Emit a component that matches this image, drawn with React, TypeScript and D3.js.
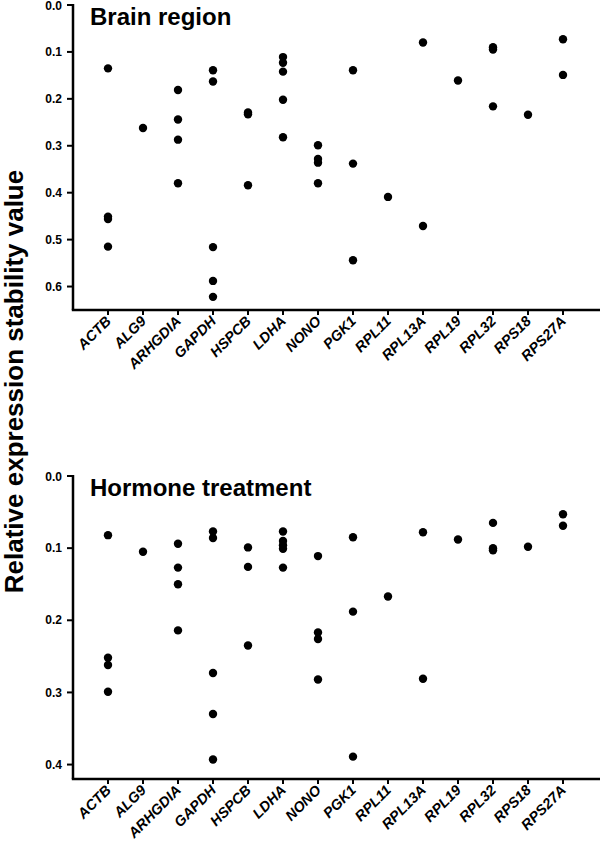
import React from "react";
import * as d3 from "d3";

const genes = ["ACTB","ALG9","ARHGDIA","GAPDH","HSPCB","LDHA","NONO","PGK1","RPL11","RPL13A","RPL19","RPL32","RPS18","RPS27A"];

const brainValues: number[][] = [
  [0.135, 0.451, 0.456, 0.515],
  [0.262],
  [0.181, 0.244, 0.287, 0.380],
  [0.139, 0.163, 0.516, 0.588, 0.622],
  [0.229, 0.233, 0.384],
  [0.111, 0.123, 0.142, 0.202, 0.282],
  [0.299, 0.328, 0.336, 0.380],
  [0.139, 0.338, 0.544],
  [0.409],
  [0.080, 0.471],
  [0.161],
  [0.090, 0.095, 0.216],
  [0.234],
  [0.073, 0.149],
];

const hormoneValues: number[][] = [
  [0.082, 0.252, 0.262, 0.299],
  [0.105],
  [0.094, 0.127, 0.150, 0.214],
  [0.077, 0.086, 0.273, 0.330, 0.393],
  [0.099, 0.126, 0.235],
  [0.077, 0.090, 0.096, 0.101, 0.127],
  [0.111, 0.217, 0.226, 0.282],
  [0.085, 0.188, 0.389],
  [0.167],
  [0.078, 0.281],
  [0.088],
  [0.065, 0.100, 0.103],
  [0.098],
  [0.053, 0.069],
];

const brainTicks = [0, 0.1, 0.2, 0.3, 0.4, 0.5, 0.6];
const hormoneTicks = [0, 0.1, 0.2, 0.3, 0.4];

const FONT = "'Liberation Sans', Arial, sans-serif";

type PanelProps = {
  title: string;
  values: number[][];
  ticks: number[];
  yMax: number;
  top: number;
  bottom: number;
};

function Panel({ title, values, ticks, yMax, top, bottom }: PanelProps) {
  const axisX = 73;
  const x = d3.scalePoint<string>().domain(genes).range([axisX, 598]).padding(1);
  const y = d3.scaleLinear().domain([0, yMax]).range([top, bottom]);
  return (
    <g>
      <line x1={axisX} x2={axisX} y1={top - 1} y2={bottom} stroke="#000" strokeWidth={2.5} />
      <line x1={axisX - 1.2} x2={600} y1={bottom} y2={bottom} stroke="#000" strokeWidth={2.5} />
      {ticks.map((t) => (
        <g key={t}>
          <line x1={axisX - 6} x2={axisX} y1={y(t)} y2={y(t)} stroke="#000" strokeWidth={2} />
          <text x={62} y={y(t)} dy={t === 0 ? "0.42em" : "0.35em"} textAnchor="end" fontFamily={FONT} fontWeight="bold" fontSize={12}>
            {t.toFixed(1)}
          </text>
        </g>
      ))}
      {genes.map((g) => (
        <g key={g}>
          <line x1={x(g)} x2={x(g)} y1={bottom} y2={bottom + 5} stroke="#000" strokeWidth={2} />
          <text
            transform={`translate(${(x(g) as number) + 4},${bottom + 12}) rotate(-45)`}
            textAnchor="end"
            fontFamily={FONT}
            fontWeight="bold"
            fontStyle="italic"
            fontSize={14.5}
          >
            {g}
          </text>
        </g>
      ))}
      {genes.map((g, i) =>
        values[i].map((v, j) => (
          <circle key={`${g}-${j}`} cx={x(g)} cy={y(v)} r={4.2} fill="#000" />
        ))
      )}
      <text x={90} y={top + 20} fontFamily={FONT} fontWeight="bold" fontSize={24}>
        {title}
      </text>
    </g>
  );
}

export default function App() {
  return (
    <svg width={600} height={843} style={{ position: "absolute", left: 0, top: 0, background: "#fff" }}>
      <rect width={600} height={843} fill="#fff" />
      <Panel title="Brain region" values={brainValues} ticks={brainTicks} yMax={0.65} top={5} bottom={310} />
      <Panel title="Hormone treatment" values={hormoneValues} ticks={hormoneTicks} yMax={0.42} top={476} bottom={779} />
      <text
        transform="translate(23,381.5) rotate(-90)"
        textAnchor="middle"
        fontFamily={FONT}
        fontWeight="bold"
        fontSize={26}
      >
        Relative expression stability value
      </text>
    </svg>
  );
}
